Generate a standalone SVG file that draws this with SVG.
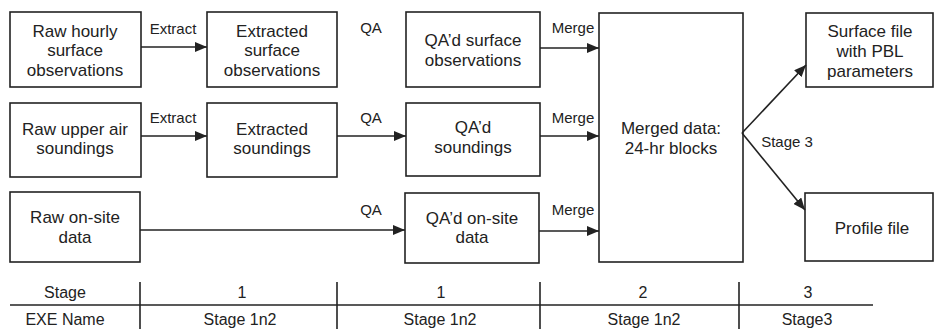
<svg xmlns="http://www.w3.org/2000/svg" width="934" height="329" viewBox="0 0 934 329">
<style>
.box{fill:#fff;stroke:#222;stroke-width:1.6}
.t{font-family:"Liberation Sans",Arial,sans-serif;font-size:17px;fill:#222;text-anchor:middle}
.l{font-family:"Liberation Sans",Arial,sans-serif;font-size:15px;fill:#222;text-anchor:middle}
.tb{font-family:"Liberation Sans",Arial,sans-serif;font-size:16px;fill:#222;text-anchor:middle}
.c{stroke:#222;stroke-width:1.6;fill:none}
.g{stroke:#222;stroke-width:1.6}
</style>
<defs>
<marker id="ah" viewBox="0 0 12 10" refX="12" refY="5" markerWidth="12" markerHeight="10" markerUnits="userSpaceOnUse" orient="auto">
<path d="M0,0 L12,5 L0,10 Z" fill="#222"/>
</marker>
</defs>
<rect width="934" height="329" fill="#fff"/>
<g id="raw-surface"><rect class="box" x="10" y="12" width="131" height="75"/>
<text class="t" x="75" y="36.5">Raw hourly</text><text class="t" x="75" y="56">surface</text><text class="t" x="75" y="75.5">observations</text></g>
<g id="ext-surface"><rect class="box" x="207" y="12" width="130" height="75"/>
<text class="t" x="272" y="36.5">Extracted</text><text class="t" x="272" y="56">surface</text><text class="t" x="272" y="75.5">observations</text></g>
<g id="qa-surface"><rect class="box" x="406" y="12" width="134" height="75"/>
<text class="t" x="473" y="46">QA’d surface</text><text class="t" x="473" y="65.5">observations</text></g>
<g id="raw-upper"><rect class="box" x="10" y="103" width="131" height="74"/>
<text class="t" x="75" y="134.5">Raw upper air</text><text class="t" x="75" y="154">soundings</text></g>
<g id="ext-sound"><rect class="box" x="207" y="103" width="130" height="74"/>
<text class="t" x="272" y="134.5">Extracted</text><text class="t" x="272" y="154">soundings</text></g>
<g id="qa-sound"><rect class="box" x="406" y="103" width="134" height="73"/>
<text class="t" x="473" y="133">QA’d</text><text class="t" x="473" y="153">soundings</text></g>
<g id="raw-onsite"><rect class="box" x="10" y="192" width="130" height="70"/>
<text class="t" x="75" y="223">Raw on-site</text><text class="t" x="75" y="243">data</text></g>
<g id="qa-onsite"><rect class="box" x="405" y="193" width="134" height="70"/>
<text class="t" x="472" y="223.5">QA’d on-site</text><text class="t" x="472" y="243">data</text></g>
<g id="merged"><rect class="box" x="599" y="13" width="144" height="249"/>
<text class="t" x="671" y="134">Merged data:</text><text class="t" x="671" y="153.5">24-hr blocks</text></g>
<g id="surface-file"><rect class="box" x="806" y="13" width="127" height="74"/>
<text class="t" x="870" y="37">Surface file</text><text class="t" x="870" y="57">with PBL</text><text class="t" x="870" y="77">parameters</text></g>
<g id="profile-file"><rect class="box" x="805" y="193" width="128" height="68"/>
<text class="t" x="872" y="234">Profile file</text></g>
<g id="connectors">
<line class="c" x1="141" y1="47" x2="207" y2="47" marker-end="url(#ah)"/>
<line class="c" x1="141" y1="136" x2="207" y2="136" marker-end="url(#ah)"/>
<line class="c" x1="337" y1="136" x2="406" y2="136" marker-end="url(#ah)"/>
<line class="c" x1="140" y1="230" x2="405" y2="230" marker-end="url(#ah)"/>
<line class="c" x1="540" y1="48" x2="599" y2="48" marker-end="url(#ah)"/>
<line class="c" x1="540" y1="136" x2="599" y2="136" marker-end="url(#ah)"/>
<line class="c" x1="539" y1="231" x2="599" y2="231" marker-end="url(#ah)"/>
<line class="c" x1="742" y1="133" x2="806" y2="65" marker-end="url(#ah)"/>
<line class="c" x1="742" y1="133" x2="805" y2="210" marker-end="url(#ah)"/>
<text class="l" x="173" y="34">Extract</text>
<text class="l" x="173" y="123">Extract</text>
<text class="l" x="371" y="33">QA</text>
<text class="l" x="371" y="123">QA</text>
<text class="l" x="371" y="215">QA</text>
<text class="l" x="573" y="33">Merge</text>
<text class="l" x="573" y="123">Merge</text>
<text class="l" x="573" y="215">Merge</text>
<text class="l" x="787" y="147">Stage 3</text>
</g>
<g id="table">
<line class="g" x1="10" y1="305" x2="873" y2="305" stroke-width="2"/>
<line class="g" x1="140" y1="282" x2="140" y2="329"/>
<line class="g" x1="337" y1="282" x2="337" y2="329"/>
<line class="g" x1="540" y1="282" x2="540" y2="329"/>
<line class="g" x1="739" y1="282" x2="739" y2="329"/>
<text class="tb" x="65" y="298">Stage</text>
<text class="tb" x="242" y="298">1</text>
<text class="tb" x="441" y="298">1</text>
<text class="tb" x="643" y="298">2</text>
<text class="tb" x="808" y="298">3</text>
<text class="tb" x="65" y="325">EXE Name</text>
<text class="tb" x="240" y="325">Stage 1n2</text>
<text class="tb" x="440" y="325">Stage 1n2</text>
<text class="tb" x="644" y="325">Stage 1n2</text>
<text class="tb" x="807" y="325">Stage3</text>
</g>
</svg>
